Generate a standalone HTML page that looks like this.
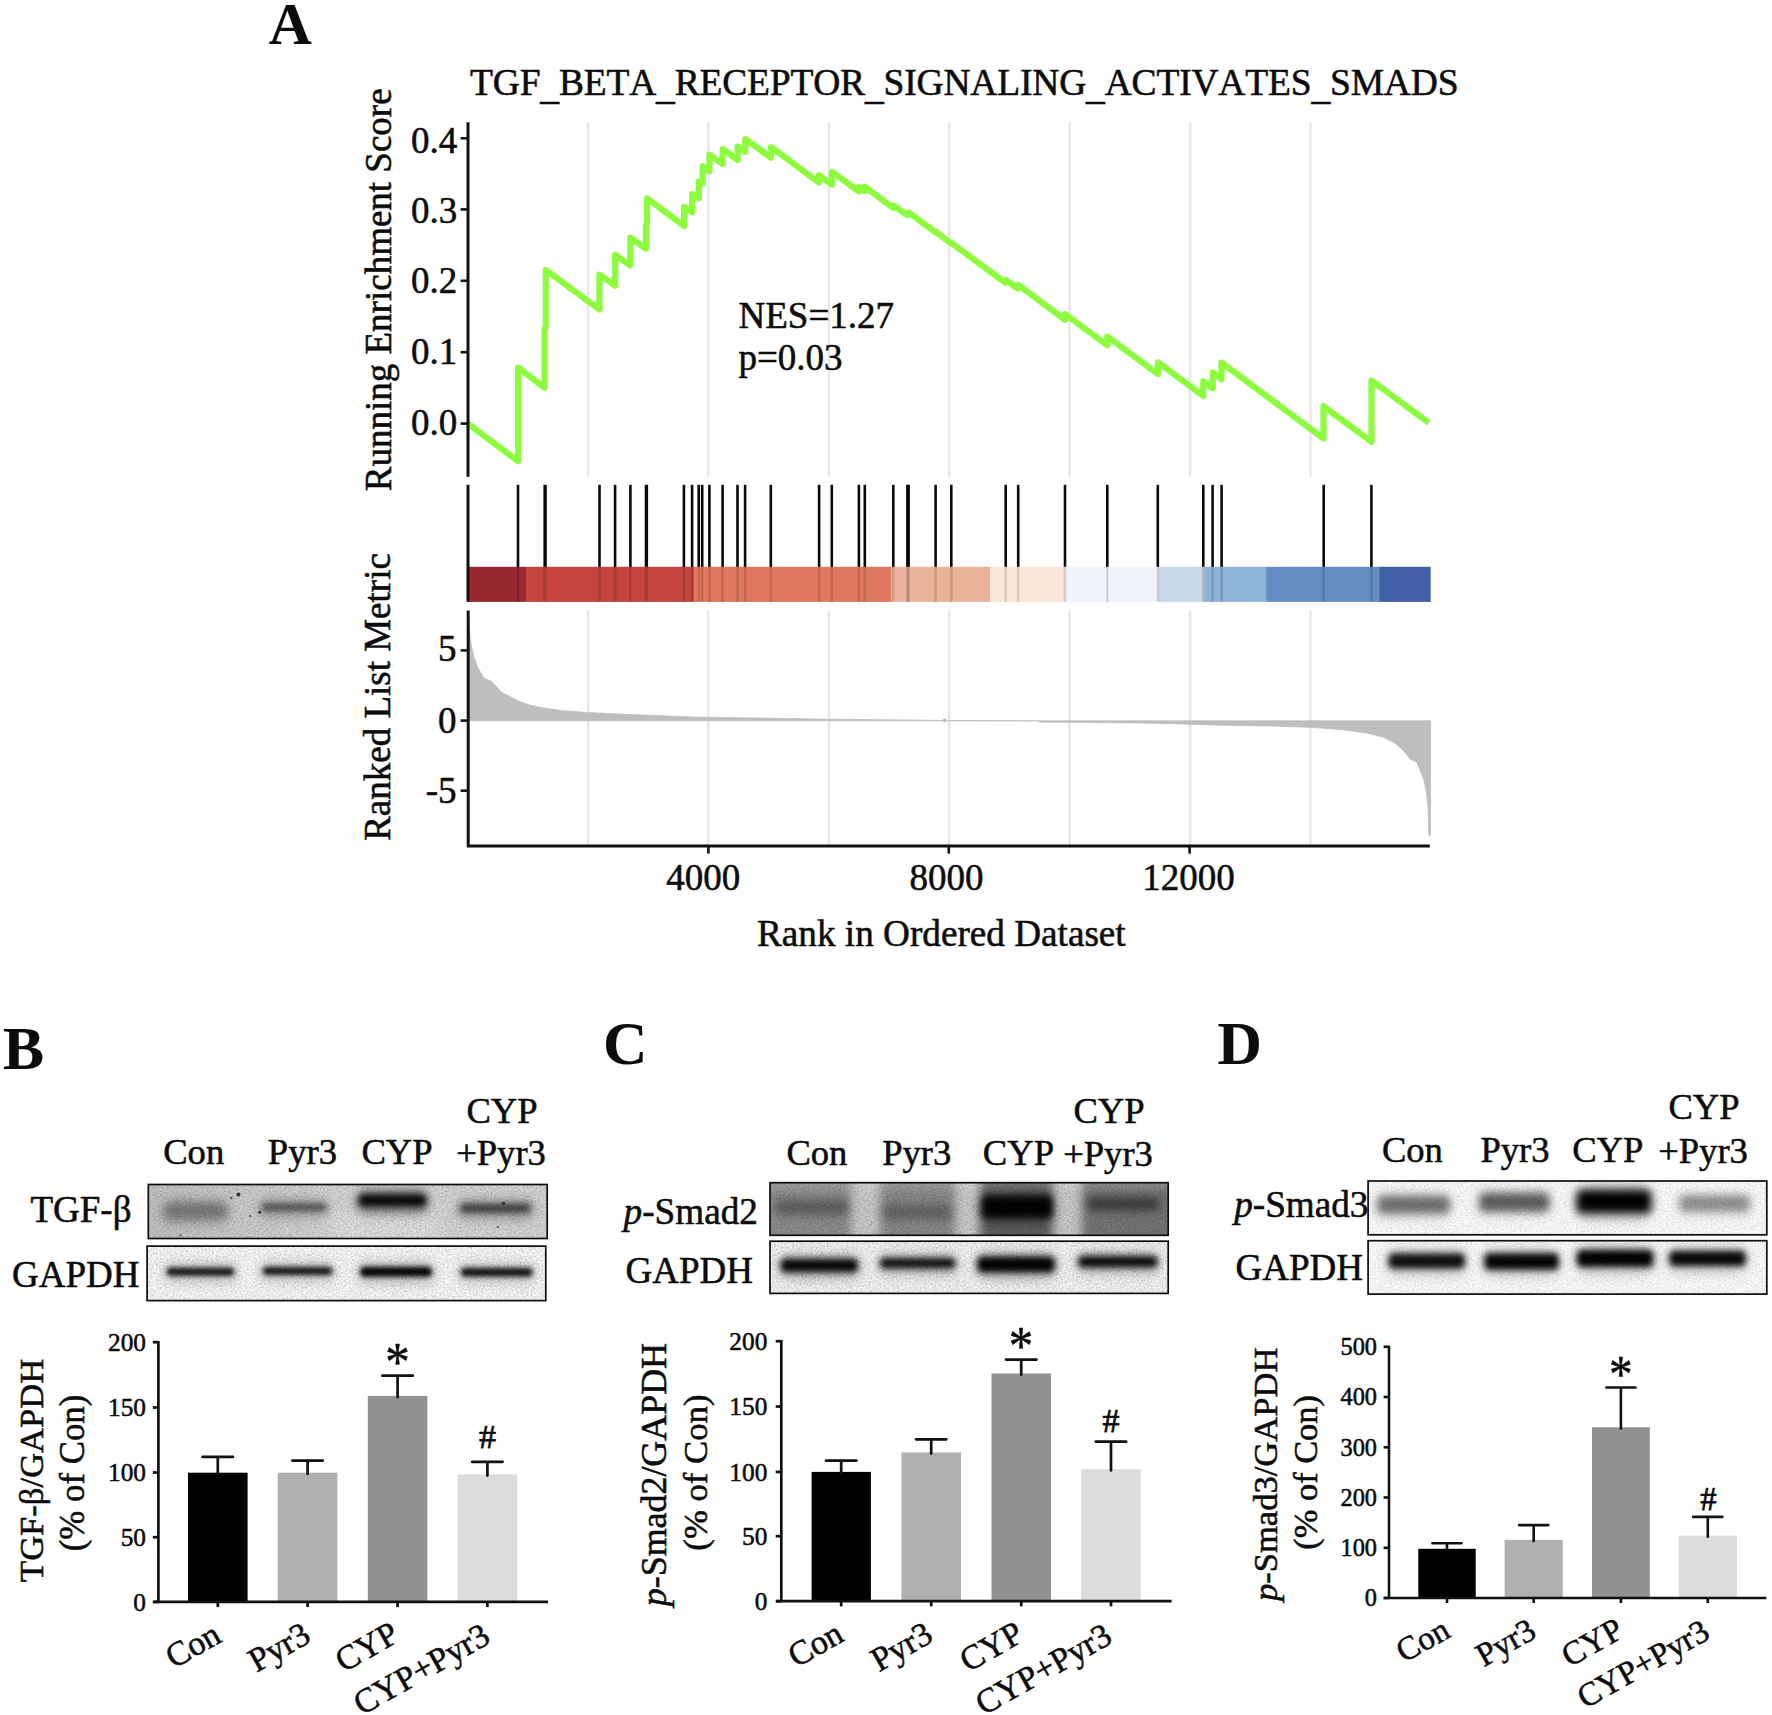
<!DOCTYPE html>
<html lang="en"><head><meta charset="utf-8"><title>Figure</title>
<style>
html,body{margin:0;padding:0;background:#fff;}
body{width:1772px;height:1715px;overflow:hidden;}
svg{display:block;}
text{font-family:"Liberation Serif", "Times New Roman", serif;fill:#0c0c0c;stroke:#0c0c0c;stroke-width:0.55px;stroke-linejoin:round;}
.ax{stroke:#111;fill:none;}
</style></head><body>
<svg width="1772" height="1715" viewBox="0 0 1772 1715">
<defs>
<linearGradient id="gB" x1="0" x2="1" y1="0" y2="0"><stop offset="0" stop-color="#000" stop-opacity="0.09"/><stop offset="1" stop-color="#000" stop-opacity="0"/></linearGradient>
<filter id="b2" x="-30%" y="-100%" width="160%" height="300%"><feGaussianBlur stdDeviation="2.5"/></filter>
<filter id="grain" x="0" y="0" width="100%" height="100%"><feTurbulence type="fractalNoise" baseFrequency="0.55" numOctaves="2" seed="7"/><feColorMatrix type="matrix" values="0 0 0 0 0  0 0 0 0 0  0 0 0 0 0  0.7 0.7 0.7 0 -0.85"/></filter>
<filter id="b4" x="-30%" y="-100%" width="160%" height="300%"><feGaussianBlur stdDeviation="4"/></filter>
<filter id="b3" x="-30%" y="-100%" width="160%" height="300%"><feGaussianBlur stdDeviation="3.2"/></filter>
<filter id="b5" x="-30%" y="-100%" width="160%" height="300%"><feGaussianBlur stdDeviation="5"/></filter>
<filter id="b8" x="-30%" y="-100%" width="160%" height="300%"><feGaussianBlur stdDeviation="8"/></filter>
</defs>
<rect width="1772" height="1715" fill="#fff"/>

<g id="panelA" style="font-kerning:none">
<text x="268.7" y="44.4" font-size="59.5" font-weight="bold" style="stroke-width:0.15px">A</text>
<text x="470" y="95.4" font-size="37.5" textLength="988.5" lengthAdjust="spacing">TGF<tspan dy="3.3">_</tspan><tspan dy="-3.3">BETA</tspan><tspan dy="3.3">_</tspan><tspan dy="-3.3">RECEPTOR</tspan><tspan dy="3.3">_</tspan><tspan dy="-3.3">SIGNALING</tspan><tspan dy="3.3">_</tspan><tspan dy="-3.3">ACTIVATES</tspan><tspan dy="3.3">_</tspan><tspan dy="-3.3">SMADS</tspan></text>
<line x1="588.2" y1="122.5" x2="588.2" y2="476.8" stroke="#e6e6e6" stroke-width="2.3"/>
<line x1="708.4" y1="122.5" x2="708.4" y2="476.8" stroke="#e6e6e6" stroke-width="2.3"/>
<line x1="828.8" y1="122.5" x2="828.8" y2="476.8" stroke="#e6e6e6" stroke-width="2.3"/>
<line x1="949.2" y1="122.5" x2="949.2" y2="476.8" stroke="#e6e6e6" stroke-width="2.3"/>
<line x1="1069.5" y1="122.5" x2="1069.5" y2="476.8" stroke="#e6e6e6" stroke-width="2.3"/>
<line x1="1190.2" y1="122.5" x2="1190.2" y2="476.8" stroke="#e6e6e6" stroke-width="2.3"/>
<line x1="1310.5" y1="122.5" x2="1310.5" y2="476.8" stroke="#e6e6e6" stroke-width="2.3"/>
<line x1="588.2" y1="611" x2="588.2" y2="845" stroke="#e6e6e6" stroke-width="2.3"/>
<line x1="708.4" y1="611" x2="708.4" y2="845" stroke="#e6e6e6" stroke-width="2.3"/>
<line x1="828.8" y1="611" x2="828.8" y2="845" stroke="#e6e6e6" stroke-width="2.3"/>
<line x1="949.2" y1="611" x2="949.2" y2="845" stroke="#e6e6e6" stroke-width="2.3"/>
<line x1="1069.5" y1="611" x2="1069.5" y2="845" stroke="#e6e6e6" stroke-width="2.3"/>
<line x1="1190.2" y1="611" x2="1190.2" y2="845" stroke="#e6e6e6" stroke-width="2.3"/>
<line x1="1310.5" y1="611" x2="1310.5" y2="845" stroke="#e6e6e6" stroke-width="2.3"/>
<path d="M468.0,423.7 L518.1,461.2 L518.1,367.5 L544.7,387.8 L544.7,328.2 L545.8,327.2 L545.8,270.0 L599.4,309.5 L599.4,274.5 L615.2,285.8 L615.2,254.8 L630.3,265.5 L630.3,237.5 L645.9,248.6 L645.9,225.0 L647.0,224.0 L647.0,198.3 L684.1,226.0 L684.1,206.8 L692.2,212.3 L692.2,194.1 L698.8,198.2 L698.8,181.4 L702.7,183.6 L702.7,166.1 L709.5,171.2 L709.5,154.6 L722.7,164.1 L722.7,149.0 L737.7,159.9 L737.7,146.6 L745.3,151.8 L745.3,139.1 L771.0,157.7 L771.0,147.0 L819.0,182.5 L819.0,175.2 L832.0,184.8 L832.0,171.8 L859.0,191.5 L859.0,187.0 L864.7,191.0 L864.7,186.5 L892.8,207.7 L893.4,205.4 L907.3,215.0 L908.8,212.4 L935.4,232.2 L935.4,231.6 L951.3,243.4 L951.3,242.9 L1005.4,282.8 L1005.8,279.9 L1017.6,288.5 L1018.3,285.0 L1065.0,319.7 L1065.0,314.0 L1107.3,345.3 L1107.3,336.6 L1157.9,374.1 L1157.9,362.3 L1203.3,396.1 L1203.3,381.2 L1212.8,388.2 L1212.8,372.4 L1221.5,379.2 L1221.5,362.6 L1323.5,438.6 L1323.5,406.2 L1371.5,441.8 L1371.5,380.5 L1428.8,422.8" fill="none" stroke="#8cfc3d" stroke-width="6.2" stroke-linejoin="round" stroke-linecap="butt"/>
<line class="ax" x1="468" y1="122.3" x2="468" y2="476.8" stroke-width="3"/>
<line class="ax" x1="460.6" y1="138.3" x2="468" y2="138.3" stroke-width="2.6"/>
<text x="457.3" y="152.8" font-size="37" text-anchor="end">0.4</text>
<line class="ax" x1="460.6" y1="209.4" x2="468" y2="209.4" stroke-width="2.6"/>
<text x="457.3" y="223.2" font-size="37" text-anchor="end">0.3</text>
<line class="ax" x1="460.6" y1="280.8" x2="468" y2="280.8" stroke-width="2.6"/>
<text x="457.3" y="293.0" font-size="37" text-anchor="end">0.2</text>
<line class="ax" x1="460.6" y1="352.2" x2="468" y2="352.2" stroke-width="2.6"/>
<text x="457.3" y="363.6" font-size="37" text-anchor="end">0.1</text>
<line class="ax" x1="460.6" y1="423.6" x2="468" y2="423.6" stroke-width="2.6"/>
<text x="457.3" y="435.0" font-size="37" text-anchor="end">0.0</text>
<text transform="translate(391.3,289.8) rotate(-90)" font-size="37" text-anchor="middle">Running Enrichment Score</text>
<text x="738.5" y="328" font-size="37">NES=1.27</text>
<text x="738.5" y="370" font-size="37">p=0.03</text>
<line x1="518.0" y1="484.8" x2="518.0" y2="567" stroke="#0a0a0a" stroke-width="2.6"/>
<line x1="545.1" y1="484.8" x2="545.1" y2="567" stroke="#0a0a0a" stroke-width="3.4"/>
<line x1="599.5" y1="484.8" x2="599.5" y2="567" stroke="#0a0a0a" stroke-width="2.6"/>
<line x1="615.1" y1="484.8" x2="615.1" y2="567" stroke="#0a0a0a" stroke-width="2.6"/>
<line x1="630.4" y1="484.8" x2="630.4" y2="567" stroke="#0a0a0a" stroke-width="2.6"/>
<line x1="646.4" y1="484.8" x2="646.4" y2="567" stroke="#0a0a0a" stroke-width="3.4"/>
<line x1="683.9" y1="484.8" x2="683.9" y2="567" stroke="#0a0a0a" stroke-width="2.6"/>
<line x1="692.1" y1="484.8" x2="692.1" y2="567" stroke="#0a0a0a" stroke-width="2.6"/>
<line x1="698.7" y1="484.8" x2="698.7" y2="567" stroke="#0a0a0a" stroke-width="2.6"/>
<line x1="702.2" y1="484.8" x2="702.2" y2="567" stroke="#0a0a0a" stroke-width="2.6"/>
<line x1="709.4" y1="484.8" x2="709.4" y2="567" stroke="#0a0a0a" stroke-width="2.6"/>
<line x1="722.6" y1="484.8" x2="722.6" y2="567" stroke="#0a0a0a" stroke-width="2.6"/>
<line x1="737.5" y1="484.8" x2="737.5" y2="567" stroke="#0a0a0a" stroke-width="2.6"/>
<line x1="745.1" y1="484.8" x2="745.1" y2="567" stroke="#0a0a0a" stroke-width="2.6"/>
<line x1="770.8" y1="484.8" x2="770.8" y2="567" stroke="#0a0a0a" stroke-width="2.6"/>
<line x1="819.1" y1="484.8" x2="819.1" y2="567" stroke="#0a0a0a" stroke-width="2.6"/>
<line x1="831.8" y1="484.8" x2="831.8" y2="567" stroke="#0a0a0a" stroke-width="2.6"/>
<line x1="858.9" y1="484.8" x2="858.9" y2="567" stroke="#0a0a0a" stroke-width="2.6"/>
<line x1="864.8" y1="484.8" x2="864.8" y2="567" stroke="#0a0a0a" stroke-width="2.6"/>
<line x1="893.3" y1="484.8" x2="893.3" y2="567" stroke="#0a0a0a" stroke-width="2.6"/>
<line x1="907.4" y1="484.8" x2="907.4" y2="567" stroke="#0a0a0a" stroke-width="2.6"/>
<line x1="908.6" y1="484.8" x2="908.6" y2="567" stroke="#0a0a0a" stroke-width="2.6"/>
<line x1="935.6" y1="484.8" x2="935.6" y2="567" stroke="#0a0a0a" stroke-width="2.6"/>
<line x1="951.3" y1="484.8" x2="951.3" y2="567" stroke="#0a0a0a" stroke-width="2.6"/>
<line x1="1005.7" y1="484.8" x2="1005.7" y2="567" stroke="#0a0a0a" stroke-width="2.6"/>
<line x1="1018.2" y1="484.8" x2="1018.2" y2="567" stroke="#0a0a0a" stroke-width="2.6"/>
<line x1="1065.0" y1="484.8" x2="1065.0" y2="567" stroke="#0a0a0a" stroke-width="2.6"/>
<line x1="1107.3" y1="484.8" x2="1107.3" y2="567" stroke="#0a0a0a" stroke-width="2.6"/>
<line x1="1157.8" y1="484.8" x2="1157.8" y2="567" stroke="#0a0a0a" stroke-width="2.6"/>
<line x1="1203.3" y1="484.8" x2="1203.3" y2="567" stroke="#0a0a0a" stroke-width="2.6"/>
<line x1="1212.6" y1="484.8" x2="1212.6" y2="567" stroke="#0a0a0a" stroke-width="2.6"/>
<line x1="1221.6" y1="484.8" x2="1221.6" y2="567" stroke="#0a0a0a" stroke-width="2.6"/>
<line x1="1323.7" y1="484.8" x2="1323.7" y2="567" stroke="#0a0a0a" stroke-width="2.6"/>
<line x1="1371.4" y1="484.8" x2="1371.4" y2="567" stroke="#0a0a0a" stroke-width="2.6"/>
<rect x="468.0" y="566.8" width="58.3" height="35.1" fill="#97282f"/>
<rect x="526.0" y="566.8" width="168.1" height="35.1" fill="#c5443e"/>
<rect x="693.8" y="566.8" width="197.8" height="35.1" fill="#df785d"/>
<rect x="891.3" y="566.8" width="99.0" height="35.1" fill="#eab299"/>
<rect x="990.0" y="566.8" width="75.7" height="35.1" fill="#f8e6db"/>
<rect x="1065.4" y="566.8" width="93.2" height="35.1" fill="#f0f3fd"/>
<rect x="1158.3" y="566.8" width="46.4" height="35.1" fill="#c8d8e8"/>
<rect x="1204.4" y="566.8" width="62.0" height="35.1" fill="#8eb3d9"/>
<rect x="1266.1" y="566.8" width="113.4" height="35.1" fill="#648dc2"/>
<rect x="1379.2" y="566.8" width="51.5" height="35.1" fill="#4060a3"/>
<line x1="518.0" y1="566.8" x2="518.0" y2="601.9" stroke="#000" stroke-opacity="0.13" stroke-width="2.6"/>
<line x1="545.1" y1="566.8" x2="545.1" y2="601.9" stroke="#000" stroke-opacity="0.13" stroke-width="3.4"/>
<line x1="599.5" y1="566.8" x2="599.5" y2="601.9" stroke="#000" stroke-opacity="0.13" stroke-width="2.6"/>
<line x1="615.1" y1="566.8" x2="615.1" y2="601.9" stroke="#000" stroke-opacity="0.13" stroke-width="2.6"/>
<line x1="630.4" y1="566.8" x2="630.4" y2="601.9" stroke="#000" stroke-opacity="0.13" stroke-width="2.6"/>
<line x1="646.4" y1="566.8" x2="646.4" y2="601.9" stroke="#000" stroke-opacity="0.13" stroke-width="3.4"/>
<line x1="683.9" y1="566.8" x2="683.9" y2="601.9" stroke="#000" stroke-opacity="0.13" stroke-width="2.6"/>
<line x1="692.1" y1="566.8" x2="692.1" y2="601.9" stroke="#000" stroke-opacity="0.13" stroke-width="2.6"/>
<line x1="698.7" y1="566.8" x2="698.7" y2="601.9" stroke="#000" stroke-opacity="0.13" stroke-width="2.6"/>
<line x1="702.2" y1="566.8" x2="702.2" y2="601.9" stroke="#000" stroke-opacity="0.13" stroke-width="2.6"/>
<line x1="709.4" y1="566.8" x2="709.4" y2="601.9" stroke="#000" stroke-opacity="0.13" stroke-width="2.6"/>
<line x1="722.6" y1="566.8" x2="722.6" y2="601.9" stroke="#000" stroke-opacity="0.13" stroke-width="2.6"/>
<line x1="737.5" y1="566.8" x2="737.5" y2="601.9" stroke="#000" stroke-opacity="0.13" stroke-width="2.6"/>
<line x1="745.1" y1="566.8" x2="745.1" y2="601.9" stroke="#000" stroke-opacity="0.13" stroke-width="2.6"/>
<line x1="770.8" y1="566.8" x2="770.8" y2="601.9" stroke="#000" stroke-opacity="0.13" stroke-width="2.6"/>
<line x1="819.1" y1="566.8" x2="819.1" y2="601.9" stroke="#000" stroke-opacity="0.13" stroke-width="2.6"/>
<line x1="831.8" y1="566.8" x2="831.8" y2="601.9" stroke="#000" stroke-opacity="0.13" stroke-width="2.6"/>
<line x1="858.9" y1="566.8" x2="858.9" y2="601.9" stroke="#000" stroke-opacity="0.13" stroke-width="2.6"/>
<line x1="864.8" y1="566.8" x2="864.8" y2="601.9" stroke="#000" stroke-opacity="0.13" stroke-width="2.6"/>
<line x1="893.3" y1="566.8" x2="893.3" y2="601.9" stroke="#000" stroke-opacity="0.13" stroke-width="2.6"/>
<line x1="907.4" y1="566.8" x2="907.4" y2="601.9" stroke="#000" stroke-opacity="0.13" stroke-width="2.6"/>
<line x1="908.6" y1="566.8" x2="908.6" y2="601.9" stroke="#000" stroke-opacity="0.13" stroke-width="2.6"/>
<line x1="935.6" y1="566.8" x2="935.6" y2="601.9" stroke="#000" stroke-opacity="0.13" stroke-width="2.6"/>
<line x1="951.3" y1="566.8" x2="951.3" y2="601.9" stroke="#000" stroke-opacity="0.13" stroke-width="2.6"/>
<line x1="1005.7" y1="566.8" x2="1005.7" y2="601.9" stroke="#000" stroke-opacity="0.13" stroke-width="2.6"/>
<line x1="1018.2" y1="566.8" x2="1018.2" y2="601.9" stroke="#000" stroke-opacity="0.13" stroke-width="2.6"/>
<line x1="1065.0" y1="566.8" x2="1065.0" y2="601.9" stroke="#000" stroke-opacity="0.13" stroke-width="2.6"/>
<line x1="1107.3" y1="566.8" x2="1107.3" y2="601.9" stroke="#000" stroke-opacity="0.13" stroke-width="2.6"/>
<line x1="1157.8" y1="566.8" x2="1157.8" y2="601.9" stroke="#000" stroke-opacity="0.13" stroke-width="2.6"/>
<line x1="1203.3" y1="566.8" x2="1203.3" y2="601.9" stroke="#000" stroke-opacity="0.13" stroke-width="2.6"/>
<line x1="1212.6" y1="566.8" x2="1212.6" y2="601.9" stroke="#000" stroke-opacity="0.13" stroke-width="2.6"/>
<line x1="1221.6" y1="566.8" x2="1221.6" y2="601.9" stroke="#000" stroke-opacity="0.13" stroke-width="2.6"/>
<line x1="1323.7" y1="566.8" x2="1323.7" y2="601.9" stroke="#000" stroke-opacity="0.13" stroke-width="2.6"/>
<line x1="1371.4" y1="566.8" x2="1371.4" y2="601.9" stroke="#000" stroke-opacity="0.13" stroke-width="2.6"/>
<line class="ax" x1="468" y1="484.8" x2="468" y2="601.9" stroke-width="3"/>
<path d="M468.2,720.8 L468.6,627.0 L469.4,629.5 L471.1,644.0 L473.6,655.9 L477.9,667.7 L483.8,677.9 L491.4,681.3 L501.6,692.3 L510.0,696.5 L518.5,701.2 L530.4,705.3 L543.9,708.0 L560.8,710.4 L586.2,712.4 L620.1,714.1 L653.9,715.5 L700.0,717.2 L752.0,717.9 L828.3,719.2 L927.0,720.2 L944.5,720.6 L1038.5,720.8 L1038.5,722.0 L1141.5,723.0 L1190.0,724.2 L1222.3,725.3 L1273.1,726.1 L1310.4,727.3 L1340.8,729.5 L1366.2,732.9 L1383.1,737.1 L1395.0,743.0 L1403.5,750.7 L1410.2,759.1 L1417.0,762.5 L1420.4,771.0 L1423.8,779.5 L1426.3,791.3 L1428.0,806.5 L1428.9,835.3 L1430.5,835.3 L1430.5,720.8 Z" fill="#bebebe" stroke="#bebebe" stroke-width="0.8" stroke-linejoin="round"/>
<circle cx="944.5" cy="720.5999999999999" r="2" fill="#bebebe"/>
<path class="ax" d="M468.2,610.5 L468.2,846 L1429.8,846" stroke-width="3" stroke-linejoin="miter"/>
<line class="ax" x1="460.6" y1="650.4" x2="468" y2="650.4" stroke-width="2.6"/>
<text x="456.6" y="660.6" font-size="37" text-anchor="end">5</text>
<line class="ax" x1="460.6" y1="720.6" x2="468" y2="720.6" stroke-width="2.6"/>
<text x="456.6" y="732.8" font-size="37" text-anchor="end">0</text>
<line class="ax" x1="460.6" y1="790.7" x2="468" y2="790.7" stroke-width="2.6"/>
<text x="456.6" y="802.5" font-size="37" text-anchor="end">-5</text>
<line class="ax" x1="708.4" y1="846" x2="708.4" y2="853.6" stroke-width="2.6"/>
<text x="703.2" y="889.8" font-size="37" text-anchor="middle">4000</text>
<line class="ax" x1="948.8" y1="846" x2="948.8" y2="853.6" stroke-width="2.6"/>
<text x="946.6" y="889.8" font-size="37" text-anchor="middle">8000</text>
<line class="ax" x1="1189.6" y1="846" x2="1189.6" y2="853.6" stroke-width="2.6"/>
<text x="1188.6" y="889.8" font-size="37" text-anchor="middle">12000</text>
<text transform="translate(390,697) rotate(-90)" font-size="37" text-anchor="middle">Ranked List Metric</text>
<text x="941.4" y="946.2" font-size="37.2" text-anchor="middle">Rank in Ordered Dataset</text>
</g>
<g id="panelB">
<text x="3.1" y="1069.3" font-size="61.5" font-weight="bold" style="stroke-width:0.15px">B</text>
<text x="193.7" y="1164" font-size="36.6" text-anchor="middle">Con</text>
<text x="302.4" y="1164" font-size="36.6" text-anchor="middle">Pyr3</text>
<text x="397" y="1164" font-size="36.6" text-anchor="middle">CYP</text>
<text x="502" y="1122.6" font-size="36.6" text-anchor="middle">CYP</text>
<text x="501" y="1165" font-size="36.6" text-anchor="middle">+Pyr3</text>
<text x="81" y="1222.2" font-size="37" text-anchor="middle">TGF-β</text>
<text x="75.8" y="1286.5" font-size="37" text-anchor="middle">GAPDH</text>
<clipPath id="c148_1184"><rect x="148.3" y="1184.5" width="398.9" height="54.0"/></clipPath>
<rect x="148.3" y="1184.5" width="398.9" height="54.0" fill="#d7d7d7"/>
<g clip-path="url(#c148_1184)">
<rect x="148" y="1180" width="190" height="70" fill="url(#gB)"/><rect x="330" y="1215" width="110" height="30" fill="#fff" fill-opacity="0.25" filter="url(#b8)"/>
<rect x="160.7" y="1197.0" width="70.0" height="30.0" rx="15.0" fill="#000" fill-opacity="0.1" filter="url(#b5)"/>
<rect x="164.7" y="1203.0" width="62.0" height="16.0" rx="4.5" fill="#000" fill-opacity="0.34" filter="url(#b5)"/>
<rect x="257.5" y="1197.5" width="73.0" height="21.5" rx="10.8" fill="#000" fill-opacity="0.17" filter="url(#b5)"/>
<rect x="261.5" y="1203.5" width="65.0" height="7.5" rx="3.8" fill="#000" fill-opacity="0.55" filter="url(#b3)"/>
<rect x="354.9" y="1188.5" width="75.0" height="26.0" rx="13.0" fill="#000" fill-opacity="0.38" filter="url(#b5)"/>
<rect x="358.9" y="1194.5" width="67.0" height="12.0" rx="4.5" fill="#000" fill-opacity="0.95" filter="url(#b3)"/>
<rect x="456.0" y="1198.0" width="79.0" height="22.5" rx="11.2" fill="#000" fill-opacity="0.22" filter="url(#b5)"/>
<rect x="460.0" y="1204.0" width="71.0" height="8.5" rx="4.2" fill="#000" fill-opacity="0.64" filter="url(#b3)"/>
<circle cx="238.4" cy="1194.4" r="2.0" fill="#111" fill-opacity="0.8"/><circle cx="231.3" cy="1198" r="1.2" fill="#111" fill-opacity="0.6"/><circle cx="259.7" cy="1212.2" r="1.5" fill="#111" fill-opacity="0.8"/><circle cx="250.2" cy="1216" r="1.1" fill="#111" fill-opacity="0.6"/><circle cx="503.4" cy="1203.4" r="1.6" fill="#111" fill-opacity="0.7"/><circle cx="497.9" cy="1227.1" r="1.2" fill="#111" fill-opacity="0.5"/><circle cx="180.3" cy="1235.4" r="1.1" fill="#111" fill-opacity="0.5"/><circle cx="161" cy="1195" r="0.8" fill="#111" fill-opacity="0.4"/><circle cx="176" cy="1202" r="0.8" fill="#111" fill-opacity="0.4"/>
<rect x="148.3" y="1184.5" width="398.9" height="54.0" filter="url(#grain)" opacity="0.3"/>
</g>
<rect x="148.3" y="1184.5" width="398.9" height="54.0" fill="none" stroke="#0d0d0d" stroke-width="1.7"/>
<clipPath id="c147_1246"><rect x="147.1" y="1246.1" width="398.7" height="54.5"/></clipPath>
<rect x="147.1" y="1246.1" width="398.7" height="54.5" fill="#fafafa"/>
<g clip-path="url(#c147_1246)">

<rect x="162.4" y="1261.5" width="76.0" height="22.5" rx="11.2" fill="#000" fill-opacity="0.14" filter="url(#b5)"/>
<rect x="166.4" y="1267.5" width="68.0" height="8.5" rx="4.2" fill="#000" fill-opacity="0.88" filter="url(#b2)"/>
<rect x="258.6" y="1260.8" width="78.0" height="22.5" rx="11.2" fill="#000" fill-opacity="0.14" filter="url(#b5)"/>
<rect x="262.6" y="1266.8" width="70.0" height="8.5" rx="4.2" fill="#000" fill-opacity="0.88" filter="url(#b2)"/>
<rect x="356.0" y="1260.7" width="80.0" height="24.0" rx="12.0" fill="#000" fill-opacity="0.18" filter="url(#b5)"/>
<rect x="360.0" y="1266.7" width="72.0" height="10.0" rx="4.5" fill="#000" fill-opacity="0.98" filter="url(#b2)"/>
<rect x="456.7" y="1261.7" width="80.0" height="23.0" rx="11.5" fill="#000" fill-opacity="0.14" filter="url(#b5)"/>
<rect x="460.7" y="1267.7" width="72.0" height="9.0" rx="4.5" fill="#000" fill-opacity="0.9" filter="url(#b2)"/>

<rect x="147.1" y="1246.1" width="398.7" height="54.5" filter="url(#grain)" opacity="0.3"/>
</g>
<rect x="147.1" y="1246.1" width="398.7" height="54.5" fill="none" stroke="#0d0d0d" stroke-width="1.7"/>
</g>
<g id="panelC">
<text x="603" y="1064.2" font-size="61.5" font-weight="bold" style="stroke-width:0.15px">C</text>
<text x="816.9" y="1165" font-size="36.6" text-anchor="middle">Con</text>
<text x="916.8" y="1165" font-size="36.6" text-anchor="middle">Pyr3</text>
<text x="1018.4" y="1165" font-size="36.6" text-anchor="middle">CYP</text>
<text x="1109" y="1123.4" font-size="36.6" text-anchor="middle">CYP</text>
<text x="1108" y="1166" font-size="36.6" text-anchor="middle">+Pyr3</text>
<text x="623.6" y="1223.8" font-size="37.2"><tspan font-style="italic">p</tspan>-Smad2</text>
<text x="689.3" y="1283" font-size="37" text-anchor="middle">GAPDH</text>
<clipPath id="c770_1182"><rect x="770" y="1182.7" width="398.2" height="52.6"/></clipPath>
<rect x="770" y="1182.7" width="398.2" height="52.6" fill="#cbcbcb"/>
<g clip-path="url(#c770_1182)">
<rect x="764" y="1170" width="87" height="80" fill="#000" fill-opacity="0.3" filter="url(#b5)"/><rect x="880" y="1170" width="75" height="80" fill="#000" fill-opacity="0.32" filter="url(#b5)"/><rect x="980" y="1170" width="73" height="80" fill="#000" fill-opacity="0.52" filter="url(#b5)"/><rect x="1082" y="1170" width="98" height="80" fill="#000" fill-opacity="0.42" filter="url(#b5)"/><rect x="760" y="1176" width="420" height="14" fill="#fff" fill-opacity="0.16" filter="url(#b3)"/>
<rect x="775.0" y="1200.0" width="74.0" height="15.0" rx="4.5" fill="#000" fill-opacity="0.32" filter="url(#b5)"/>
<rect x="882.0" y="1205.0" width="70.0" height="14.0" rx="4.5" fill="#000" fill-opacity="0.28" filter="url(#b5)"/>
<rect x="978.0" y="1190.0" width="78.0" height="36.0" rx="18.0" fill="#000" fill-opacity="0.25" filter="url(#b5)"/>
<rect x="982.0" y="1196.0" width="70.0" height="22.0" rx="4.5" fill="#000" fill-opacity="0.93" filter="url(#b3)"/>
<rect x="1087.0" y="1197.5" width="72.0" height="13.0" rx="4.5" fill="#000" fill-opacity="0.5" filter="url(#b5)"/>

<rect x="770" y="1182.7" width="398.2" height="52.6" filter="url(#grain)" opacity="0.3"/>
</g>
<rect x="770" y="1182.7" width="398.2" height="52.6" fill="none" stroke="#0d0d0d" stroke-width="1.7"/>
<clipPath id="c770_1241"><rect x="770" y="1241.2" width="398.2" height="52.2"/></clipPath>
<rect x="770" y="1241.2" width="398.2" height="52.2" fill="#f6f6f6"/>
<g clip-path="url(#c770_1241)">

<rect x="776.8" y="1252.8" width="85.0" height="27.5" rx="13.8" fill="#000" fill-opacity="0.2" filter="url(#b5)"/>
<rect x="780.8" y="1258.8" width="77.0" height="13.5" rx="4.5" fill="#000" fill-opacity="0.97" filter="url(#b3)"/>
<rect x="876.1" y="1252.0" width="83.0" height="24.5" rx="12.2" fill="#000" fill-opacity="0.18" filter="url(#b5)"/>
<rect x="880.1" y="1258.0" width="75.0" height="10.5" rx="4.5" fill="#000" fill-opacity="0.93" filter="url(#b3)"/>
<rect x="973.5" y="1250.4" width="85.0" height="30.0" rx="15.0" fill="#000" fill-opacity="0.22" filter="url(#b5)"/>
<rect x="977.5" y="1256.4" width="77.0" height="16.0" rx="4.5" fill="#000" fill-opacity="0.99" filter="url(#b3)"/>
<rect x="1074.4" y="1250.0" width="87.0" height="25.5" rx="12.8" fill="#000" fill-opacity="0.18" filter="url(#b5)"/>
<rect x="1078.4" y="1256.0" width="79.0" height="11.5" rx="4.5" fill="#000" fill-opacity="0.95" filter="url(#b3)"/>

<rect x="770" y="1241.2" width="398.2" height="52.2" filter="url(#grain)" opacity="0.3"/>
</g>
<rect x="770" y="1241.2" width="398.2" height="52.2" fill="none" stroke="#0d0d0d" stroke-width="1.7"/>
</g>
<g id="panelD">
<text x="1217.5" y="1064" font-size="61.5" font-weight="bold" style="stroke-width:0.15px">D</text>
<text x="1412.4" y="1162" font-size="36.6" text-anchor="middle">Con</text>
<text x="1515" y="1162" font-size="36.6" text-anchor="middle">Pyr3</text>
<text x="1607.8" y="1162" font-size="36.6" text-anchor="middle">CYP</text>
<text x="1704" y="1118.5" font-size="36.6" text-anchor="middle">CYP</text>
<text x="1703" y="1163" font-size="36.6" text-anchor="middle">+Pyr3</text>
<text x="1234.2" y="1217.3" font-size="37.2"><tspan font-style="italic">p</tspan>-Smad3</text>
<text x="1299.2" y="1279.8" font-size="37" text-anchor="middle">GAPDH</text>
<clipPath id="c1368_1181"><rect x="1368.1" y="1181" width="398.7" height="53.8"/></clipPath>
<rect x="1368.1" y="1181" width="398.7" height="53.8" fill="#fcfcfc"/>
<g clip-path="url(#c1368_1181)">

<rect x="1373.6" y="1189.7" width="80.0" height="32.0" rx="16.0" fill="#000" fill-opacity="0.06" filter="url(#b5)"/>
<rect x="1377.6" y="1195.7" width="72.0" height="18.0" rx="4.5" fill="#000" fill-opacity="0.52" filter="url(#b4)"/>
<rect x="1475.4" y="1186.8" width="78.0" height="33.0" rx="16.5" fill="#000" fill-opacity="0.06" filter="url(#b5)"/>
<rect x="1479.4" y="1192.8" width="70.0" height="19.0" rx="4.5" fill="#000" fill-opacity="0.6" filter="url(#b4)"/>
<rect x="1572.9" y="1184.1" width="82.0" height="37.0" rx="18.5" fill="#000" fill-opacity="0.2" filter="url(#b5)"/>
<rect x="1576.9" y="1190.1" width="74.0" height="23.0" rx="4.5" fill="#000" fill-opacity="0.99" filter="url(#b4)"/>
<rect x="1675.6" y="1189.5" width="78.0" height="30.0" rx="15.0" fill="#000" fill-opacity="0.05" filter="url(#b5)"/>
<rect x="1679.6" y="1195.5" width="70.0" height="16.0" rx="4.5" fill="#000" fill-opacity="0.4" filter="url(#b4)"/>

<rect x="1368.1" y="1181" width="398.7" height="53.8" filter="url(#grain)" opacity="0.2"/>
</g>
<rect x="1368.1" y="1181" width="398.7" height="53.8" fill="none" stroke="#0d0d0d" stroke-width="1.7"/>
<clipPath id="c1368_1240"><rect x="1368.1" y="1240.7" width="398.7" height="53.4"/></clipPath>
<rect x="1368.1" y="1240.7" width="398.7" height="53.4" fill="#fcfcfc"/>
<g clip-path="url(#c1368_1240)">

<rect x="1384.7" y="1247.4" width="84.0" height="29.0" rx="14.5" fill="#000" fill-opacity="0.16" filter="url(#b5)"/>
<rect x="1388.7" y="1253.4" width="76.0" height="15.0" rx="4.5" fill="#000" fill-opacity="0.93" filter="url(#b3)"/>
<rect x="1480.5" y="1247.3" width="82.0" height="30.5" rx="15.2" fill="#000" fill-opacity="0.16" filter="url(#b5)"/>
<rect x="1484.5" y="1253.3" width="74.0" height="16.5" rx="4.5" fill="#000" fill-opacity="0.97" filter="url(#b3)"/>
<rect x="1573.1" y="1244.0" width="84.0" height="31.0" rx="15.5" fill="#000" fill-opacity="0.18" filter="url(#b5)"/>
<rect x="1577.1" y="1250.0" width="76.0" height="17.0" rx="4.5" fill="#000" fill-opacity="0.98" filter="url(#b3)"/>
<rect x="1665.5" y="1245.0" width="84.0" height="29.0" rx="14.5" fill="#000" fill-opacity="0.16" filter="url(#b5)"/>
<rect x="1669.5" y="1251.0" width="76.0" height="15.0" rx="4.5" fill="#000" fill-opacity="0.96" filter="url(#b3)"/>

<rect x="1368.1" y="1240.7" width="398.7" height="53.4" filter="url(#grain)" opacity="0.2"/>
</g>
<rect x="1368.1" y="1240.7" width="398.7" height="53.4" fill="none" stroke="#0d0d0d" stroke-width="1.7"/>
</g>
<line class="ax" x1="152.8" y1="1342.2" x2="158.4" y2="1342.2" stroke-width="2.7"/>
<text x="146" y="1350.8" font-size="25.3" text-anchor="end">200</text>
<line class="ax" x1="152.8" y1="1407.5" x2="158.4" y2="1407.5" stroke-width="2.7"/>
<text x="146" y="1416.1" font-size="25.3" text-anchor="end">150</text>
<line class="ax" x1="152.8" y1="1472.5" x2="158.4" y2="1472.5" stroke-width="2.7"/>
<text x="146" y="1481.1" font-size="25.3" text-anchor="end">100</text>
<line class="ax" x1="152.8" y1="1537.2" x2="158.4" y2="1537.2" stroke-width="2.7"/>
<text x="146" y="1545.8" font-size="25.3" text-anchor="end">50</text>
<line class="ax" x1="152.8" y1="1601.9" x2="158.4" y2="1601.9" stroke-width="2.7"/>
<text x="146" y="1610.5" font-size="25.3" text-anchor="end">0</text>
<rect x="188.0" y="1472.7" width="59.6" height="129.2" fill="#000"/>
<path class="ax" d="M217.8,1473.9 L217.8,1456.9 M202.6,1456.9 L233.0,1456.9" stroke-width="2.7" stroke-linecap="round"/>
<line class="ax" x1="217.8" y1="1601.9" x2="217.8" y2="1607.1" stroke-width="2.7"/>
<rect x="277.8" y="1472.7" width="59.6" height="129.2" fill="#b0b0b2"/>
<path class="ax" d="M307.6,1473.9 L307.6,1460.6 M292.4,1460.6 L322.8,1460.6" stroke-width="2.7" stroke-linecap="round"/>
<line class="ax" x1="307.6" y1="1601.9" x2="307.6" y2="1607.1" stroke-width="2.7"/>
<rect x="367.8" y="1395.9" width="59.6" height="206.0" fill="#919191"/>
<path class="ax" d="M397.6,1397.1000000000001 L397.6,1375.7 M382.4,1375.7 L412.8,1375.7" stroke-width="2.7" stroke-linecap="round"/>
<line class="ax" x1="397.6" y1="1601.9" x2="397.6" y2="1607.1" stroke-width="2.7"/>
<rect x="457.6" y="1474.4" width="59.6" height="127.5" fill="#dcdcdc"/>
<path class="ax" d="M487.4,1475.6000000000001 L487.4,1461.8 M472.2,1461.8 L502.6,1461.8" stroke-width="2.7" stroke-linecap="round"/>
<line class="ax" x1="487.4" y1="1601.9" x2="487.4" y2="1607.1" stroke-width="2.7"/>
<path class="ax" d="M158.4,1341.1000000000001 L158.4,1601.9 M153.4,1601.9 L548,1601.9" stroke-width="2.7"/>
<text transform="translate(397.4,1380.2) scale(0.9,1)" font-size="54.5" text-anchor="middle" style="stroke-width:0.5px">*</text>
<text x="487.59999999999997" y="1447.8" font-size="34.0" text-anchor="middle" style="stroke-width:0.75px">#</text>
<text transform="translate(43.4,1470.4) rotate(-90)" font-size="34.6" text-anchor="middle">TGF-β/GAPDH</text>
<text transform="translate(84,1473) rotate(-90)" font-size="34.8" text-anchor="middle">(% of Con)</text>
<text transform="translate(223,1641) rotate(-29.5)" font-size="34" text-anchor="end">Con</text>
<text transform="translate(312.5,1641) rotate(-29.5)" font-size="34" text-anchor="end">Pyr3</text>
<text transform="translate(401,1640.3) rotate(-29.5)" font-size="34" text-anchor="end">CYP</text>
<text transform="translate(492,1642) rotate(-29.5)" font-size="34" text-anchor="end">CYP+Pyr3</text>
<line class="ax" x1="775.7" y1="1341.2" x2="781.3" y2="1341.2" stroke-width="2.7"/>
<text x="767.3" y="1349.8" font-size="25.3" text-anchor="end">200</text>
<line class="ax" x1="775.7" y1="1406.5" x2="781.3" y2="1406.5" stroke-width="2.7"/>
<text x="767.3" y="1415.1" font-size="25.3" text-anchor="end">150</text>
<line class="ax" x1="775.7" y1="1471.9" x2="781.3" y2="1471.9" stroke-width="2.7"/>
<text x="767.3" y="1480.5" font-size="25.3" text-anchor="end">100</text>
<line class="ax" x1="775.7" y1="1536.2" x2="781.3" y2="1536.2" stroke-width="2.7"/>
<text x="767.3" y="1544.8" font-size="25.3" text-anchor="end">50</text>
<line class="ax" x1="775.7" y1="1601.2" x2="781.3" y2="1601.2" stroke-width="2.7"/>
<text x="767.3" y="1609.8" font-size="25.3" text-anchor="end">0</text>
<rect x="811.6" y="1471.9" width="59.3" height="129.3" fill="#000"/>
<path class="ax" d="M841.2,1473.1000000000001 L841.2,1460.6 M826.0,1460.6 L856.5,1460.6" stroke-width="2.7" stroke-linecap="round"/>
<line class="ax" x1="841.2" y1="1601.2" x2="841.2" y2="1606.4" stroke-width="2.7"/>
<rect x="901.4" y="1452.4" width="59.6" height="148.8" fill="#b0b0b2"/>
<path class="ax" d="M931.2,1453.6000000000001 L931.2,1439.3 M916.0,1439.3 L946.4,1439.3" stroke-width="2.7" stroke-linecap="round"/>
<line class="ax" x1="931.2" y1="1601.2" x2="931.2" y2="1606.4" stroke-width="2.7"/>
<rect x="991.5" y="1373.5" width="59.5" height="227.7" fill="#919191"/>
<path class="ax" d="M1021.2,1374.7 L1021.2,1359.6 M1006.0,1359.6 L1036.5,1359.6" stroke-width="2.7" stroke-linecap="round"/>
<line class="ax" x1="1021.2" y1="1601.2" x2="1021.2" y2="1606.4" stroke-width="2.7"/>
<rect x="1081.2" y="1469.2" width="59.6" height="132.0" fill="#dcdcdc"/>
<path class="ax" d="M1111.0,1470.4 L1111.0,1441.6 M1095.8,1441.6 L1126.2,1441.6" stroke-width="2.7" stroke-linecap="round"/>
<line class="ax" x1="1111.0" y1="1601.2" x2="1111.0" y2="1606.4" stroke-width="2.7"/>
<path class="ax" d="M781.3,1340.1000000000001 L781.3,1601.2 M776.0,1601.2 L1171.6,1601.2" stroke-width="2.7"/>
<text transform="translate(1020.9,1364.2) scale(0.9,1)" font-size="54.5" text-anchor="middle" style="stroke-width:0.5px">*</text>
<text x="1111.1000000000001" y="1431.8" font-size="34.0" text-anchor="middle" style="stroke-width:0.75px">#</text>
<text transform="translate(665.8,1474.6) rotate(-90)" font-size="35.9" text-anchor="middle"><tspan font-style="italic">p</tspan>-Smad2/GAPDH</text>
<text transform="translate(707,1472.6) rotate(-90)" font-size="34.7" text-anchor="middle">(% of Con)</text>
<text transform="translate(845.5,1640) rotate(-29.5)" font-size="34" text-anchor="end">Con</text>
<text transform="translate(934.8,1640.5) rotate(-29.5)" font-size="34" text-anchor="end">Pyr3</text>
<text transform="translate(1025.5,1640) rotate(-29.5)" font-size="34" text-anchor="end">CYP</text>
<text transform="translate(1114,1642) rotate(-29.5)" font-size="34" text-anchor="end">CYP+Pyr3</text>
<line class="ax" x1="1383.6" y1="1346.8" x2="1389.0" y2="1346.8" stroke-width="2.6"/>
<text x="1377" y="1355.1" font-size="24.3" text-anchor="end">500</text>
<line class="ax" x1="1383.6" y1="1397" x2="1389.0" y2="1397" stroke-width="2.6"/>
<text x="1377" y="1405.3" font-size="24.3" text-anchor="end">400</text>
<line class="ax" x1="1383.6" y1="1447.3" x2="1389.0" y2="1447.3" stroke-width="2.6"/>
<text x="1377" y="1455.6" font-size="24.3" text-anchor="end">300</text>
<line class="ax" x1="1383.6" y1="1497.5" x2="1389.0" y2="1497.5" stroke-width="2.6"/>
<text x="1377" y="1505.8" font-size="24.3" text-anchor="end">200</text>
<line class="ax" x1="1383.6" y1="1547.8" x2="1389.0" y2="1547.8" stroke-width="2.6"/>
<text x="1377" y="1556.1" font-size="24.3" text-anchor="end">100</text>
<line class="ax" x1="1383.6" y1="1598" x2="1389.0" y2="1598" stroke-width="2.6"/>
<text x="1377" y="1606.3" font-size="24.3" text-anchor="end">0</text>
<rect x="1418.3" y="1548.8" width="57.4" height="49.2" fill="#000"/>
<path class="ax" d="M1447.0,1550.0 L1447.0,1543.2 M1432.4,1543.2 L1461.6,1543.2" stroke-width="2.6" stroke-linecap="round"/>
<line class="ax" x1="1447.0" y1="1598" x2="1447.0" y2="1603.0" stroke-width="2.6"/>
<rect x="1504.6" y="1539.9" width="58.2" height="58.1" fill="#b0b0b2"/>
<path class="ax" d="M1533.7,1541.1000000000001 L1533.7,1525.1 M1519.1,1525.1 L1548.3,1525.1" stroke-width="2.6" stroke-linecap="round"/>
<line class="ax" x1="1533.7" y1="1598" x2="1533.7" y2="1603.0" stroke-width="2.6"/>
<rect x="1592" y="1427.3" width="57.8" height="170.7" fill="#919191"/>
<path class="ax" d="M1620.9,1428.5 L1620.9,1387.5 M1606.3,1387.5 L1635.5,1387.5" stroke-width="2.6" stroke-linecap="round"/>
<line class="ax" x1="1620.9" y1="1598" x2="1620.9" y2="1603.0" stroke-width="2.6"/>
<rect x="1678.7" y="1535.6" width="58.2" height="62.4" fill="#dcdcdc"/>
<path class="ax" d="M1707.8,1536.8 L1707.8,1516.9 M1693.2,1516.9 L1722.4,1516.9" stroke-width="2.6" stroke-linecap="round"/>
<line class="ax" x1="1707.8" y1="1598" x2="1707.8" y2="1603.0" stroke-width="2.6"/>
<path class="ax" d="M1389.0,1345.7 L1389.0,1598 M1383.8,1598 L1766.4,1598" stroke-width="2.6"/>
<text transform="translate(1620.9,1392.2) scale(0.9,1)" font-size="52.4" text-anchor="middle" style="stroke-width:0.5px">*</text>
<text x="1708.4" y="1510.3" font-size="32.7" text-anchor="middle" style="stroke-width:0.75px">#</text>
<text transform="translate(1277,1474.3) rotate(-90)" font-size="34.6" text-anchor="middle"><tspan font-style="italic">p</tspan>-Smad3/GAPDH</text>
<text transform="translate(1317,1472.4) rotate(-90)" font-size="34.4" text-anchor="middle">(% of Con)</text>
<text transform="translate(1452,1636) rotate(-29.5)" font-size="33" text-anchor="end">Con</text>
<text transform="translate(1538,1636.5) rotate(-29.5)" font-size="33" text-anchor="end">Pyr3</text>
<text transform="translate(1625.5,1636) rotate(-29.5)" font-size="33" text-anchor="end">CYP</text>
<text transform="translate(1711.5,1637.5) rotate(-29.5)" font-size="33" text-anchor="end">CYP+Pyr3</text>
</svg></body></html>
